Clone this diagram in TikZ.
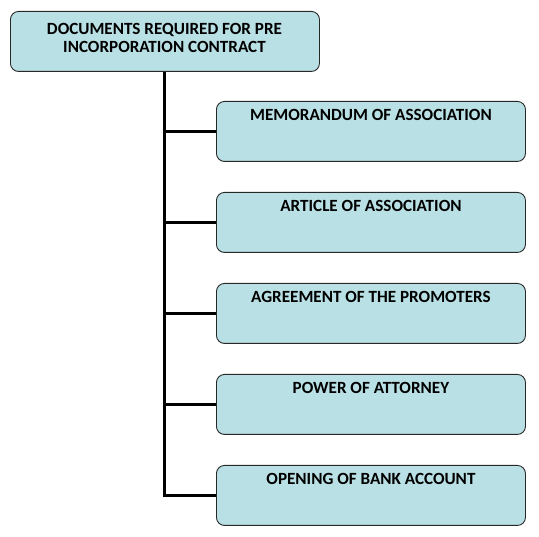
\documentclass[tikz,border=0pt]{standalone}
\usepackage{fontspec}
\setmainfont{Carlito}
\definecolor{boxfill}{RGB}{185,224,228}
\definecolor{boxline}{RGB}{40,40,40}
\begin{document}
\begin{tikzpicture}[x=1pt,y=-1pt,
  box/.style={draw=boxline,line width=0.9pt,fill=boxfill,rounded corners=8pt,minimum width=309pt,minimum height=60pt,inner sep=0pt},
  lbl/.style={inner sep=0pt,font=\fontsize{17.1}{18}\selectfont\bfseries},
  conn/.style={line width=2.6pt,black}]
\useasboundingbox (0,0) rectangle (539,537);
\node[box,anchor=north west] (root) at (10,11) {};
\node[lbl,align=center] (roottxt) at (164.5,38) {DOCUMENTS REQUIRED FOR PRE\\INCORPORATION CONTRACT};
\foreach \n/\y/\t in {c1/101/MEMORANDUM OF ASSOCIATION,c2/192/ARTICLE OF ASSOCIATION,c3/283/AGREEMENT OF THE PROMOTERS,c4/374/POWER OF ATTORNEY,c5/465/OPENING OF BANK ACCOUNT}{
  \node[box,anchor=north west] (\n) at (216,\y) {};
  \node[lbl] (\n t) at ([yshift=-14pt]\n.north) {\t};
}
\coordinate (trunk) at ([xshift=-0.5pt]root.south);
\draw[conn] (trunk) |- (c5.west);
\foreach \n in {c1,c2,c3,c4}{\draw[conn] (c1.west -| trunk) |- (\n.west);}
\end{tikzpicture}
\end{document}
